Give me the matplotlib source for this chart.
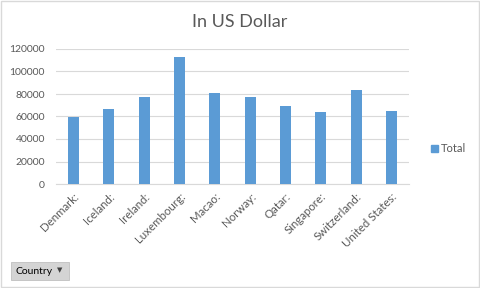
import matplotlib.pyplot as plt
import numpy as np
from matplotlib.patches import FancyBboxPatch, Rectangle

countries = ["Denmark:", "Iceland:", "Ireland:", "Luxembourg:", "Macao:",
             "Norway:", "Qatar:", "Singapore:", "Switzerland:", "United States:"]
totals = [59500, 66700, 77300, 113200, 81200, 77300, 69300, 64300, 83600, 64900]
yticks = [0, 20000, 40000, 60000, 80000, 100000, 120000]

bar_color = "#5b9bd5"
text_color = "#595959"
grid_color = "#d9d9d9"

plt.rcParams['font.family'] = ['Lato', 'DejaVu Sans']

fig = plt.figure(figsize=(4.8, 2.88), dpi=100)
ax = fig.add_axes([56/480, 104/288, 353/480, 135/288])

x = np.arange(len(countries))
ax.bar(x, totals, width=0.31, color=bar_color, zorder=3, label="Total")

ax.set_xlim(-0.5, len(countries) - 0.5)
ax.set_ylim(0, 120000)
ax.set_yticks(yticks)
ax.set_yticklabels([str(v) for v in yticks], fontsize=7.5, color=text_color)
ax.set_xticks(x)
ax.set_xticklabels(countries, rotation=45, ha="right", rotation_mode="anchor",
                   fontsize=8.3, color=text_color)
ax.tick_params(axis="both", length=0)
ax.tick_params(axis="y", pad=8)
ax.tick_params(axis="x", pad=5)
ax.grid(axis="y", color=grid_color, linewidth=0.8, zorder=0)
for s in ["top", "right", "left"]:
    ax.spines[s].set_visible(False)
ax.spines["bottom"].set_color(grid_color)
ax.spines["bottom"].set_linewidth(0.8)

fig.text(0.5, 1 - 22/288, "In US Dollar", ha="center", va="center",
         fontsize=13, color=text_color)

# legend
fig.patches.append(Rectangle((431/480, 1 - 152/288), 7/480, 7/288,
                             transform=fig.transFigure, color=bar_color))
fig.text(441/480, 1 - 148/288, "Total", ha="left", va="center",
         fontsize=8, color=text_color)

# pivot field button
fig.patches.append(FancyBboxPatch((11/480, 1 - 280/288), 58/480, 18/288,
                                  boxstyle="square,pad=0", transform=fig.transFigure,
                                  facecolor="#d4d4d4", edgecolor="#c0c0c0", linewidth=0.6))
fig.text(15/480, 1 - 271/288, "Country", ha="left", va="center", fontsize=7.5, color="black")
fig.text(60/480, 1 - 270/288, "▼", ha="center", va="center", fontsize=5, color="#404040",
         family="DejaVu Sans")

# outer border
fig.patches.append(Rectangle((1/480, 1/288), 477.5/480, 286/288, transform=fig.transFigure,
                             fill=False, edgecolor=grid_color, linewidth=1))

fig.savefig("out.png", dpi=100)
